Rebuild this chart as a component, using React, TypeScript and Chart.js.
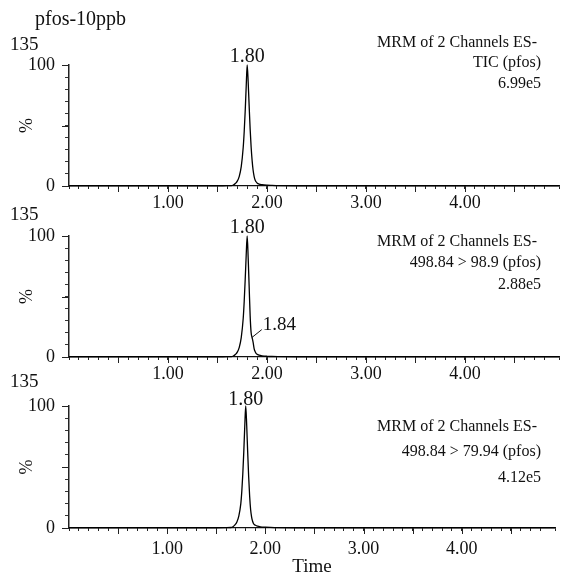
import React, { useEffect, useRef } from "react";
import { Chart, registerables } from "chart.js";

Chart.register(...registerables);

const TITLE = "pfos-10ppb";
const SCAN_LABEL = "135";
const X_TITLE = "Time";
const Y_TITLE = "%";

// retention times (min) and relative intensities (%)
const ticTimes = [0.0, 0.3, 0.6, 0.9, 1.2, 1.5, 1.6, 1.64, 1.66, 1.68, 1.7, 1.72, 1.74, 1.76, 1.77, 1.78, 1.79, 1.8, 1.81, 1.82, 1.83, 1.84, 1.85, 1.86, 1.87, 1.88, 1.89, 1.9, 1.92, 1.95, 2.0, 2.05, 2.12, 2.3, 2.6, 3.0, 3.4, 3.8, 4.2, 4.6, 4.95];
const ticValues = [0.2, 0.2, 0.2, 0.2, 0.2, 0.2, 0.25, 0.3, 0.8, 2, 4, 8, 16, 32, 45, 62, 82, 100, 86, 66, 47, 32, 21, 13, 8, 5, 3.5, 2.5, 1.6, 1.1, 0.7, 0.5, 0.3, 0.2, 0.2, 0.2, 0.2, 0.2, 0.2, 0.2, 0.2];

const ch1Times = [0.0, 0.3, 0.6, 0.9, 1.2, 1.5, 1.6, 1.64, 1.66, 1.68, 1.7, 1.72, 1.74, 1.76, 1.77, 1.78, 1.79, 1.8, 1.81, 1.82, 1.83, 1.84, 1.85, 1.86, 1.87, 1.88, 1.89, 1.9, 1.92, 1.95, 2.0, 2.05, 2.12, 2.3, 2.6, 3.0, 3.4, 3.8, 4.2, 4.6, 4.95];
const ch1Values = [0.2, 0.2, 0.2, 0.2, 0.2, 0.2, 0.25, 0.3, 0.8, 2, 4, 8, 16, 32, 46, 64, 84, 100, 82, 58, 34, 20, 16, 12, 7, 4.5, 3, 2.2, 1.5, 1, 0.6, 0.4, 0.3, 0.2, 0.2, 0.2, 0.2, 0.2, 0.2, 0.2, 0.2];

const ch2Times = [0.0, 0.3, 0.6, 0.9, 1.2, 1.5, 1.6, 1.65, 1.67, 1.69, 1.71, 1.73, 1.75, 1.76, 1.77, 1.78, 1.79, 1.8, 1.81, 1.82, 1.83, 1.84, 1.85, 1.86, 1.87, 1.88, 1.9, 1.92, 1.95, 2.0, 2.05, 2.12, 2.3, 2.6, 3.0, 3.4, 3.8, 4.2, 4.6, 4.95];
const ch2Values = [0.2, 0.2, 0.2, 0.2, 0.2, 0.2, 0.25, 0.4, 1, 2.5, 5, 10, 20, 30, 44, 62, 83, 100, 84, 62, 42, 26, 15, 9, 5.5, 3.5, 2.2, 1.5, 1, 0.7, 0.5, 0.3, 0.2, 0.2, 0.2, 0.2, 0.2, 0.2, 0.2, 0.2];

const X_MIN = 0;
const X_MAX = 4.95;
const X_LABELLED = [1, 2, 3, 4];
const X_MAJOR_STEP = 0.5;
const Y_MAJOR = [0, 50, 100];

const headerTic = ["MRM of 2 Channels ES- ", "TIC (pfos)", "6.99e5"];
const headerCh1 = ["MRM of 2 Channels ES- ", "498.84 > 98.9 (pfos)", "2.88e5"];
const headerCh2 = ["MRM of 2 Channels ES- ", "498.84 > 79.94 (pfos)", "4.12e5"];

const peaksTic = [1.8];
const peaksCh1 = [1.8];
const peaksCh2 = [1.8];
const shoulderCh1 = { time: 1.84, at: 1.846, level: 16 };

const SERIF = "'Liberation Serif', 'Times New Roman', serif";
const W = 562;
const H = 578;

type Panel = {
  times: number[];
  values: number[];
  header: string[];
  peaks: number[];
  top: number;
  bottom: number;
  labelPad: number;
  peakGap: number;
  scanY: number;
  headerYs: number[];
  showTitle?: boolean;
  showTime?: boolean;
  shoulder?: { time: number; at: number; level: number };
};

const PANELS: Panel[] = [
  { times: ticTimes, values: ticValues, header: headerTic, peaks: peaksTic, top: 65, bottom: 186, labelPad: 3, peakGap: 3, scanY: 45, headerYs: [43, 63, 84], showTitle: true },
  { times: ch1Times, values: ch1Values, header: headerCh1, peaks: peaksCh1, top: 236, bottom: 357, labelPad: 3, peakGap: 3, scanY: 215, headerYs: [242, 263, 285], shoulder: shoulderCh1 },
  { times: ch2Times, values: ch2Values, header: headerCh2, peaks: peaksCh2, top: 406, bottom: 528, labelPad: 7, peakGap: 1, scanY: 382, headerYs: [427, 452, 478], showTime: true },
];

function PanelChart({ p }: { p: Panel }) {
  const ref = useRef<HTMLCanvasElement | null>(null);
  useEffect(() => {
    if (!ref.current) return;
    const xAxisH = p.showTime ? H - p.bottom : 40;
    const padBottom = H - p.bottom - xAxisH;
    const textPlugin = {
      id: "texts" + p.top,
      afterDraw(chart: any) {
        const ctx = chart.ctx;
        const xs = chart.scales.x;
        const ys = chart.scales.y;
        const area = chart.chartArea;
        ctx.save();
        // longer ticks at major positions
        ctx.strokeStyle = "#222";
        ctx.lineWidth = 1;
        ctx.beginPath();
        xs.ticks.forEach((t: any) => {
          const q = t.value / X_MAJOR_STEP;
          if (Math.abs(q - Math.round(q)) < 1e-6 && t.value > 0) {
            const px = Math.round(xs.getPixelForValue(t.value)) + 0.5;
            ctx.moveTo(px, area.bottom);
            ctx.lineTo(px, area.bottom + 6);
          }
        });
        Y_MAJOR.forEach((v) => {
          const py = Math.round(ys.getPixelForValue(v)) + 0.5;
          ctx.moveTo(area.left, py);
          ctx.lineTo(area.left - 7, py);
        });
        ctx.stroke();

        ctx.fillStyle = "#111";
        ctx.textBaseline = "middle";
        ctx.font = `20px ${SERIF}`;
        ctx.textAlign = "left";
        if (p.showTitle) ctx.fillText(TITLE, 35, 20);
        ctx.font = `19px ${SERIF}`;
        ctx.fillText(SCAN_LABEL, 10, p.scanY);
        // peak labels
        ctx.font = `20px ${SERIF}`;
        ctx.textAlign = "center";
        ctx.textBaseline = "alphabetic";
        p.peaks.forEach((t) => {
          const idx = p.times.indexOf(t);
          const v = idx >= 0 ? p.values[idx] : 100;
          ctx.fillText(t.toFixed(2), xs.getPixelForValue(t), ys.getPixelForValue(v) - p.peakGap);
        });
        // header
        ctx.font = `16px ${SERIF}`;
        ctx.textAlign = "right";
        ctx.textBaseline = "middle";
        p.header.forEach((s, i) => ctx.fillText(s, 541, p.headerYs[i]));
        // shoulder annotation
        if (p.shoulder) {
          const sx = xs.getPixelForValue(p.shoulder.at);
          const sy = ys.getPixelForValue(p.shoulder.level);
          ctx.strokeStyle = "#111";
          ctx.lineWidth = 1;
          ctx.beginPath();
          ctx.moveTo(sx, sy);
          ctx.lineTo(sx + 10, sy - 8);
          ctx.stroke();
          ctx.font = `19px ${SERIF}`;
          ctx.textAlign = "left";
          ctx.textBaseline = "middle";
          ctx.fillText(p.shoulder.time.toFixed(2), sx + 11, sy - 13);
        }
        ctx.restore();
      },
    };
    const chart = new Chart(ref.current, {
      type: "line",
      data: {
        datasets: [
          {
            data: p.times.map((t, i) => ({ x: t, y: p.values[i] })),
            borderColor: "#000",
            borderWidth: 1.3,
            pointRadius: 0,
            cubicInterpolationMode: "monotone",
            fill: false,
            clip: false as any,
          },
        ],
      },
      options: {
        responsive: false,
        devicePixelRatio: 1,
        animation: false,
        events: [],
        layout: { padding: { top: p.top, bottom: padBottom, left: 0, right: 0 } },
        plugins: { legend: { display: false }, tooltip: { enabled: false }, title: { display: false } },
        scales: {
          x: {
            type: "linear",
            min: X_MIN,
            max: X_MAX,
            afterFit: (s: any) => {
              s.height = xAxisH;
            },
            border: { display: true, color: "#111", width: 1.2 },
            grid: { drawOnChartArea: false, drawTicks: true, tickLength: 3, color: "#222", lineWidth: 1 },
            ticks: {
              stepSize: 0.1,
              autoSkip: false,
              maxRotation: 0,
              minRotation: 0,
              padding: p.labelPad,
              color: "#111",
              font: { family: SERIF, size: 18 },
              callback: (v: any) => {
                const n = Number(v);
                const r = Math.round(n);
                return Math.abs(n - r) < 1e-6 && X_LABELLED.includes(r) ? r.toFixed(2) : "";
              },
            },
            title: {
              display: !!p.showTime,
              text: X_TITLE,
              color: "#111",
              font: { family: SERIF, size: 19 },
              padding: { top: 0, bottom: 0 },
            },
          },
          y: {
            type: "linear",
            min: 0,
            max: 100,
            afterFit: (s: any) => {
              s.width = 69;
            },
            border: { display: true, color: "#222", width: 1.5 },
            grid: { drawOnChartArea: false, drawTicks: true, tickLength: 4, color: "#333", lineWidth: 1 },
            ticks: {
              stepSize: 10,
              autoSkip: false,
              padding: 10,
              color: "#111",
              font: { family: SERIF, size: 18 },
              callback: (v: any) => (Number(v) === 0 ? "0" : Number(v) === 100 ? "100" : ""),
            },
            title: {
              display: true,
              text: Y_TITLE,
              color: "#111",
              font: { family: SERIF, size: 18 },
              padding: { top: 16, bottom: 0 },
            },
          },
        },
      },
      plugins: [textPlugin],
    } as any);
    return () => chart.destroy();
  }, [p]);
  return (
    <canvas
      ref={ref}
      width={W}
      height={H}
      style={{ position: "absolute", left: 0, top: 0, width: W, height: H }}
    />
  );
}

export default function App() {
  return (
    <div style={{ position: "absolute", left: 0, top: 0, width: W, height: H, background: "#fff", overflow: "hidden" }}>
      {PANELS.map((p, i) => (
        <PanelChart key={i} p={p} />
      ))}
    </div>
  );
}
